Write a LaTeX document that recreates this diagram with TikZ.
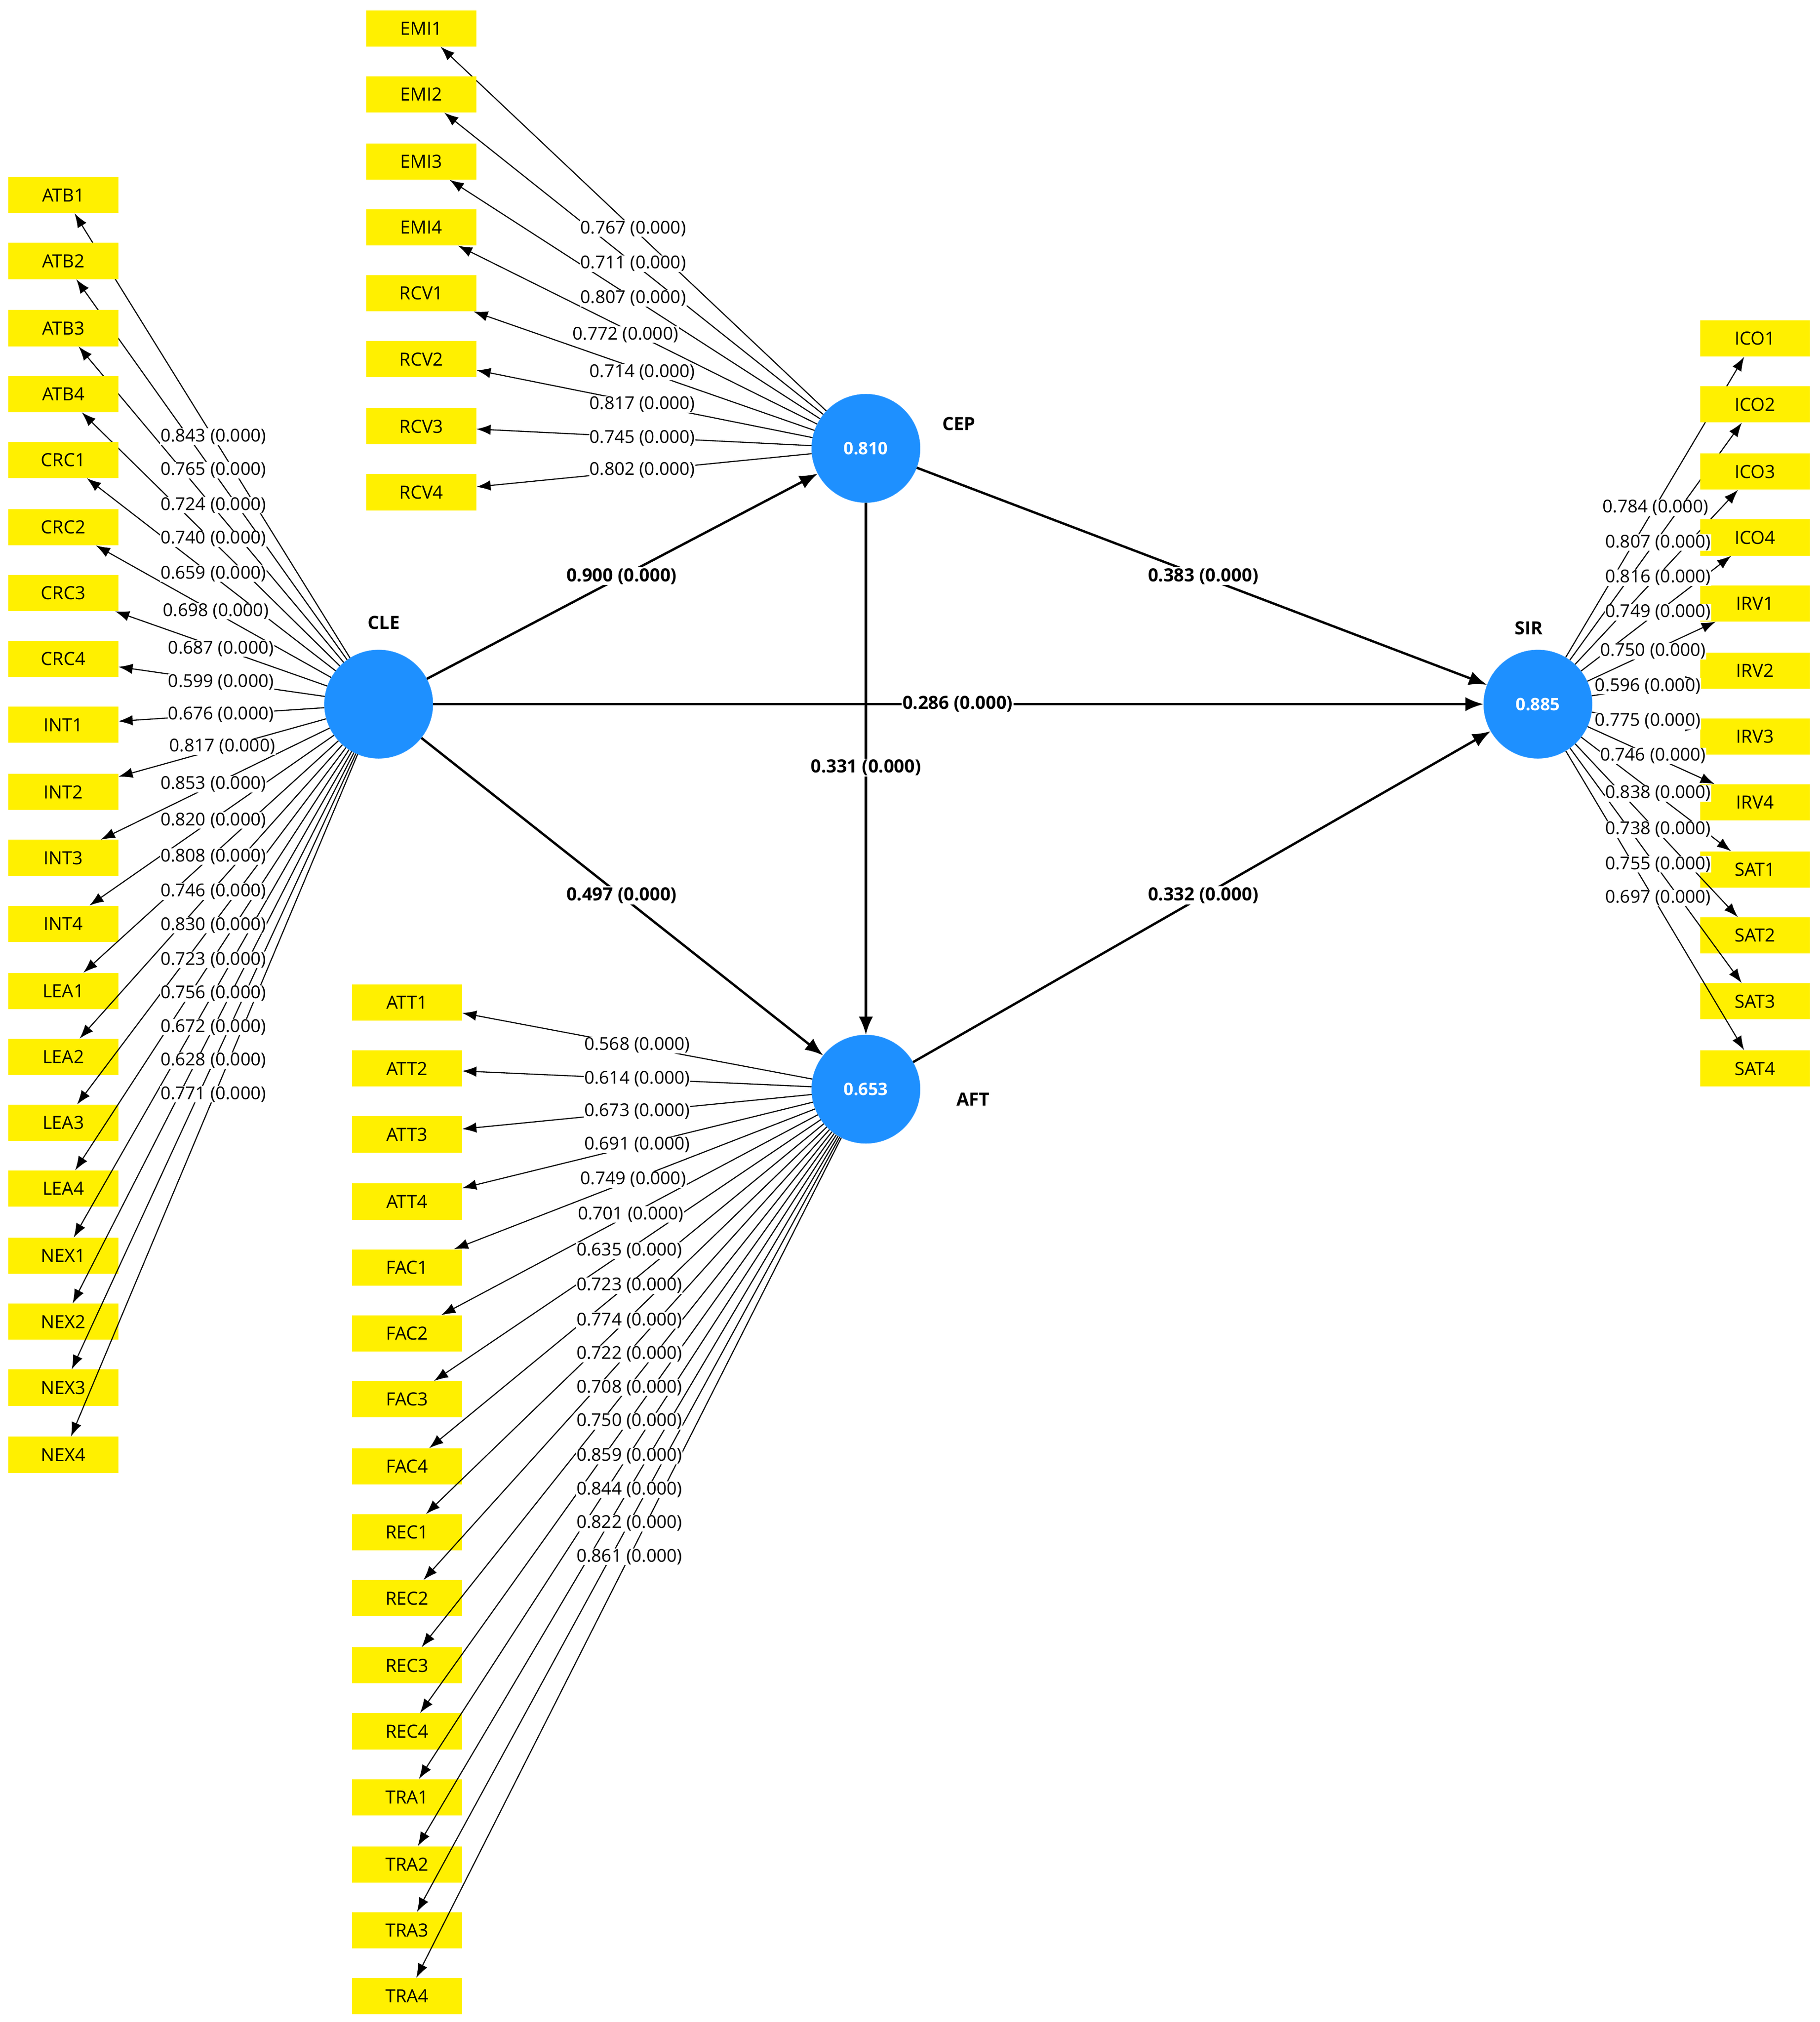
\documentclass[tikz,border=0pt]{standalone}
\usepackage{fontspec}
\setmainfont{Open Sans}
\usetikzlibrary{arrows.meta}
\definecolor{lvblue}{RGB}{30,144,255}
\definecolor{indy}{RGB}{255,240,0}
\begin{document}
\begin{tikzpicture}[x=0.05cm,y=-0.05cm,
 ind/.style={fill=indy,minimum width=4.25cm,minimum height=1.4cm,inner sep=0pt,font=\fontsize{20}{22}\selectfont},
 lv/.style={circle,fill=lvblue,draw=lvblue!80!white,minimum size=4.2cm,inner sep=0pt,text=white,font=\bfseries\fontsize{19}{22}\selectfont},
 ld/.style={-{Latex[length=0.55cm,width=0.4cm]},line width=1.2pt},
 pth/.style={-{Latex[length=0.7cm,width=0.55cm]},line width=2.6pt},
 lab/.style={fill=white,inner sep=0.5pt,font=\fontsize{19.5}{22}\selectfont},
 plab/.style={fill=white,inner sep=1pt,font=\bfseries\fontsize{20}{22}\selectfont},
 nm/.style={font=\bfseries\fontsize{20}{22}\selectfont}]
\useasboundingbox (0,0) rectangle (1408,1565);
\node[lv] (CLE) at (293,545) {};
\node[lv] (CEP) at (670,347) {0.810};
\node[lv] (AFT) at (670,843) {0.653};
\node[lv] (SIR) at (1190,545) {0.885};
\node[nm] (tCLE) at (297,482) {CLE};
\node[nm] (tCEP) at (742,328) {CEP};
\node[nm] (tAFT) at (753,851) {AFT};
\node[nm] (tSIR) at (1183,486) {SIR};
% CLE indicators
\foreach \n/\y/\v/\lx/\ly in {ATB1/151/0.843/165/338,ATB2/202/0.765/165/364,ATB3/254/0.724/165/391,ATB4/305/0.740/165/417,CRC1/356/0.659/165/444,CRC2/408/0.698/167/473,CRC3/459/0.687/171/502,CRC4/510/0.599/171/528,INT1/561/0.676/171/553,INT2/613/0.817/172/578,INT3/664/0.853/165/607,INT4/715/0.820/165/635,LEA1/767/0.808/165/663,LEA2/818/0.746/165/690,LEA3/869/0.830/165/716,LEA4/920/0.723/165/743,NEX1/972/0.756/165/769,NEX2/1023/0.672/165/795,NEX3/1074/0.628/165/821,NEX4/1126/0.771/165/847}{
 \node[ind] (\n) at (49,\y) {\n};
 \draw[ld] (CLE) -- (\n);
}
\foreach \n/\y/\v/\lx/\ly in {ATB1/151/0.843/165/338,ATB2/202/0.765/165/364,ATB3/254/0.724/165/391,ATB4/305/0.740/165/417,CRC1/356/0.659/165/444,CRC2/408/0.698/167/473,CRC3/459/0.687/171/502,CRC4/510/0.599/171/528,INT1/561/0.676/171/553,INT2/613/0.817/172/578,INT3/664/0.853/165/607,INT4/715/0.820/165/635,LEA1/767/0.808/165/663,LEA2/818/0.746/165/690,LEA3/869/0.830/165/716,LEA4/920/0.723/165/743,NEX1/972/0.756/165/769,NEX2/1023/0.672/165/795,NEX3/1074/0.628/165/821,NEX4/1126/0.771/165/847}{
 \node[lab] (l\n) at (\lx,\ly) {\v{} (0.000)};
}
% CEP indicators
\foreach \n/\y/\v/\lx/\ly in {EMI1/22/0.767/490/177,EMI2/73/0.711/490/204,EMI3/125/0.807/490/231,EMI4/176/0.772/484/259,RCV1/227/0.714/497/288,RCV2/278/0.817/497/313,RCV3/330/0.745/497/339,RCV4/381/0.802/497/364}{
 \node[ind] (\n) at (326,\y) {\n};
 \draw[ld] (CEP) -- (\n);
}
\foreach \n/\y/\v/\lx/\ly in {EMI1/22/0.767/490/177,EMI2/73/0.711/490/204,EMI3/125/0.807/490/231,EMI4/176/0.772/484/259,RCV1/227/0.714/497/288,RCV2/278/0.817/497/313,RCV3/330/0.745/497/339,RCV4/381/0.802/497/364}{
 \node[lab] (l\n) at (\lx,\ly) {\v{} (0.000)};
}
% AFT indicators
\foreach \n/\y/\v/\lx/\ly in {ATT1/776/0.568/493/809,ATT2/827/0.614/493/835,ATT3/878/0.673/493/860,ATT4/930/0.691/493/886,FAC1/981/0.749/490/913,FAC2/1032/0.701/488/940,FAC3/1083/0.635/487/968,FAC4/1135/0.723/487/995,REC1/1186/0.774/487/1022,REC2/1237/0.722/487/1048,REC3/1289/0.708/487/1074,REC4/1340/0.750/487/1100,TRA1/1391/0.859/487/1127,TRA2/1443/0.844/487/1153,TRA3/1494/0.822/487/1179,TRA4/1545/0.861/487/1205}{
 \node[ind] (\n) at (315,\y) {\n};
 \draw[ld] (AFT) -- (\n);
}
\foreach \n/\y/\v/\lx/\ly in {ATT1/776/0.568/493/809,ATT2/827/0.614/493/835,ATT3/878/0.673/493/860,ATT4/930/0.691/493/886,FAC1/981/0.749/490/913,FAC2/1032/0.701/488/940,FAC3/1083/0.635/487/968,FAC4/1135/0.723/487/995,REC1/1186/0.774/487/1022,REC2/1237/0.722/487/1048,REC3/1289/0.708/487/1074,REC4/1340/0.750/487/1100,TRA1/1391/0.859/487/1127,TRA2/1443/0.844/487/1153,TRA3/1494/0.822/487/1179,TRA4/1545/0.861/487/1205}{
 \node[lab] (l\n) at (\lx,\ly) {\v{} (0.000)};
}
% SIR indicators
\foreach \n/\y/\v/\lx/\ly in {ICO1/262/0.784/1281/393,ICO2/313/0.807/1283/420,ICO3/365/0.816/1283/447,ICO4/416/0.749/1283/474,IRV1/467/0.750/1279/504,IRV2/519/0.596/1275/531,IRV3/570/0.775/1275/558,IRV4/621/0.746/1279/585,SAT1/673/0.838/1283/614,SAT2/724/0.738/1283/642,SAT3/775/0.755/1283/669,SAT4/827/0.697/1283/695}{
 \node[ind] (\n) at (1358,\y) {\n};
 \draw[ld] (SIR) -- (\n);
}
\foreach \n/\y/\v/\lx/\ly in {ICO1/262/0.784/1281/393,ICO2/313/0.807/1283/420,ICO3/365/0.816/1283/447,ICO4/416/0.749/1283/474,IRV1/467/0.750/1279/504,IRV2/519/0.596/1275/531,IRV3/570/0.775/1275/558,IRV4/621/0.746/1279/585,SAT1/673/0.838/1283/614,SAT2/724/0.738/1283/642,SAT3/775/0.755/1283/669,SAT4/827/0.697/1283/695}{
 \node[lab] (l\n) at (\lx,\ly) {\v{} (0.000)};
}
% structural paths
\draw[pth] (CLE) -- (CEP);
\draw[pth] (CLE) -- (AFT);
\draw[pth] (CLE) -- (SIR);
\draw[pth] (CEP) -- (SIR);
\draw[pth] (CEP) -- (AFT);
\draw[pth] (AFT) -- (SIR);
\node[plab] (p1) at (481,446) {0.900 (0.000)};
\node[plab] (p2) at (931,446) {0.383 (0.000)};
\node[plab] (p3) at (741,545) {0.286 (0.000)};
\node[plab] (p4) at (670,594) {0.331 (0.000)};
\node[plab] (p5) at (481,693) {0.497 (0.000)};
\node[plab] (p6) at (931,693) {0.332 (0.000)};
\end{tikzpicture}
\end{document}
